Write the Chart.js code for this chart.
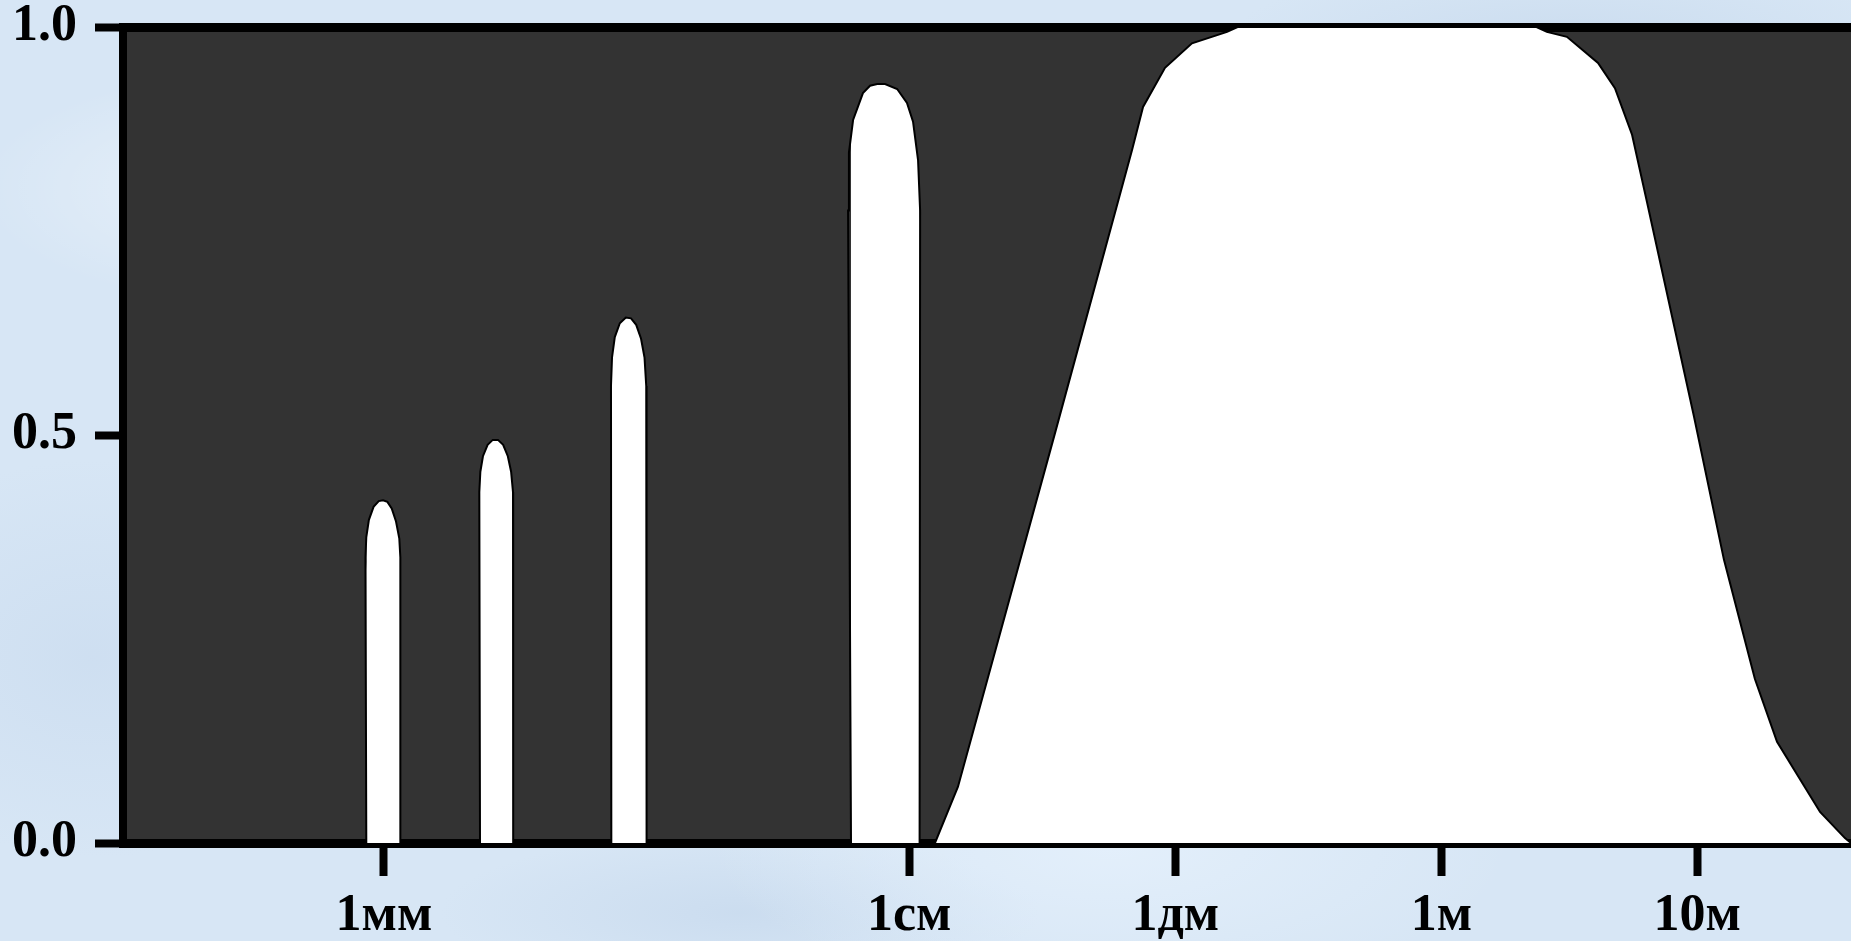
<!DOCTYPE html>
<html>
<head>
<meta charset="utf-8">
<script src="https://cdn.jsdelivr.net/npm/chart.js@4.4.1/dist/chart.umd.min.js"></script>
<style>
    html, body {
        margin: 0;
        padding: 0;
        overflow: hidden;
    }
    body {
        width: 1851px;
        height: 941px;
        background:
            radial-gradient(ellipse 300px 120px at 15% 20%, rgba(255,255,255,0.45), transparent),
            radial-gradient(ellipse 400px 150px at 60% 90%, rgba(235,245,255,0.6), transparent),
            radial-gradient(ellipse 350px 90px at 85% 5%, rgba(190,210,232,0.5), transparent),
            radial-gradient(ellipse 250px 200px at 5% 70%, rgba(200,218,238,0.6), transparent),
            radial-gradient(ellipse 300px 80px at 40% 97%, rgba(195,214,235,0.6), transparent),
            #d7e6f5;
    }
    #wrap {
        position: absolute;
        left: 0;
        top: 0;
        width: 1851px;
        height: 941px;
    }
</style>
</head>
<body>
<div id="wrap"><canvas id="atmoChart"></canvas></div>
<script>
// tick positions along the wavelength axis (arbitrary units 0..1000) and their labels
const tickPositions = [151, 455, 609, 763, 911];
const tickLabels = ['1мм', '1см', '1дм', '1м', '10м'];
const yTicks = [0, 0.5, 1];

// transparency windows: [position, transmission]
const window1 = [[140.8, 0], [140.3, 0.35], [140.8, 0.375], [142.3, 0.396], [145, 0.412], [148, 0.419], [150.5, 0.42],
    [153, 0.418], [155.5, 0.41], [158, 0.394], [159.9, 0.373], [160.5, 0.35], [160.5, 0]];
const window2 = [[206.6, 0], [206.2, 0.43], [206.8, 0.455], [208.3, 0.474], [211, 0.488], [214, 0.494], [217, 0.494],
    [220, 0.488], [222.7, 0.474], [224.6, 0.455], [225.7, 0.43], [225.8, 0]];
const window3 = [[282.6, 0], [282.4, 0.56], [283, 0.595], [284.6, 0.62], [287.5, 0.637], [291, 0.644], [294, 0.643],
    [297, 0.635], [299.8, 0.618], [301.8, 0.595], [302.8, 0.56], [303, 0]];
const window4 = [[421.3, 0], [419.6, 0.775], [420.1, 0.846], [422.5, 0.886], [428.2, 0.919], [432.3, 0.928], [436.5, 0.93],
    [441, 0.93], [448, 0.924], [453.7, 0.907], [457.2, 0.884], [460.1, 0.837], [461.3, 0.775], [461, 0]];
const radioWindow = [[469.9, 0], [483.2, 0.069], [538.8, 0.498], [583.9, 0.849], [590.3, 0.902], [603, 0.95], [618.6, 0.98],
    [638.9, 0.994], [645, 1.0], [818, 1.0], [824, 0.994], [835.6, 0.988], [853.6, 0.956], [863.4, 0.925], [873.3, 0.868],
    [882, 0.785], [909.1, 0.523], [926.5, 0.347], [944.4, 0.201], [957.2, 0.124], [982.1, 0.038], [996.5, 0.006], [1000, 0]];

const allWindows = [window1, window2, window3, window4, radioWindow];

const plotBg = {
    id: 'plotBg',
    beforeDraw(chart) {
        const { ctx, chartArea } = chart;
        ctx.save();
        ctx.fillStyle = '#333333';
        ctx.fillRect(chartArea.left, chartArea.top, chartArea.right - chartArea.left, chartArea.bottom - chartArea.top);
        ctx.restore();
    }
};

// fixed box sizes, no extra label padding
function fixBox(size, horizontal) {
    return s => {
        if (horizontal) s.height = size; else s.width = size;
        s.paddingTop = 0;
        s.paddingBottom = 0;
        s.paddingLeft = 0;
        s.paddingRight = 0;
    };
}

const labelFont = { family: '"Liberation Serif", "Times New Roman", serif', size: 52, weight: 'bold', lineHeight: 1 };

const ctx = document.getElementById('atmoChart').getContext('2d');
new Chart(ctx, {
    type: 'line',
    data: {
        datasets: allWindows.map(w => ({
            data: w.map(p => ({ x: p[0], y: p[1] })),
            borderColor: '#000000',
            borderWidth: 2,
            backgroundColor: '#ffffff',
            fill: 'origin',
            pointRadius: 0,
            tension: 0
        }))
    },
    options: {
        responsive: true,
        maintainAspectRatio: false,
        animation: false,
        layout: { padding: 0 },
        plugins: {
            legend: { display: false },
            tooltip: { enabled: false }
        },
        scales: {
            x: {
                type: 'linear',
                position: 'bottom',
                min: 0,
                max: 1000,
                z: 1,
                afterFit: fixBox(98, true),
                afterBuildTicks: s => { s.ticks = tickPositions.map(v => ({ value: v })); },
                grid: { display: true, drawOnChartArea: false, drawTicks: true, tickLength: 33, tickWidth: 8, tickColor: '#000' },
                border: { display: true, width: 9, color: '#000' },
                ticks: {
                    padding: 15,
                    color: '#000',
                    font: labelFont,
                    maxRotation: 0,
                    autoSkip: false,
                    callback: (v, i) => tickLabels[i]
                }
            },
            xTop: {
                type: 'linear',
                position: 'top',
                min: 0,
                max: 1000,
                z: 1,
                afterFit: fixBox(27, true),
                grid: { display: false },
                border: { display: true, width: 9, color: '#000' },
                ticks: { display: false }
            },
            y: {
                min: 0,
                max: 1,
                z: 1,
                afterFit: fixBox(123, false),
                afterBuildTicks: s => { s.ticks = yTicks.map(v => ({ value: v })); },
                grid: { display: true, drawOnChartArea: false, drawTicks: true, tickLength: 28, tickWidth: 8, tickColor: '#000' },
                border: { display: true, width: 8, color: '#000' },
                ticks: {
                    padding: 18,
                    color: '#000',
                    font: labelFont,
                    callback: v => v.toFixed(1)
                }
            }
        }
    },
    plugins: [plotBg]
});
</script>
</body>
</html>
